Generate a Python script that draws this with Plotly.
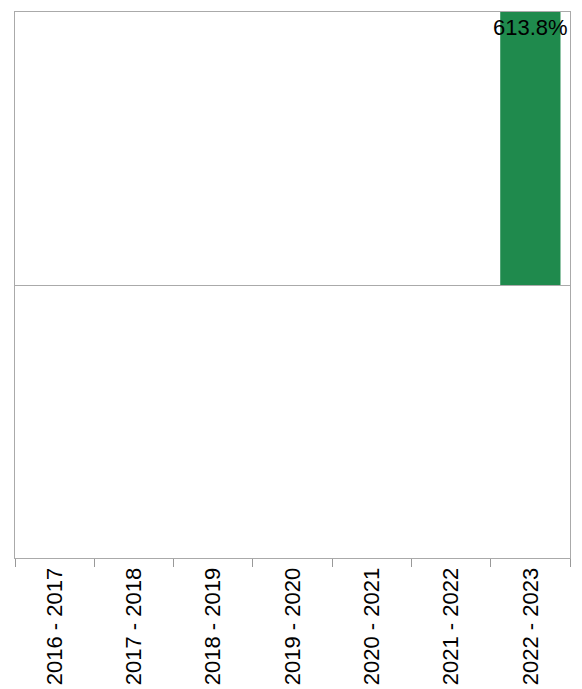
import plotly.graph_objects as go

categories = ["2016 - 2017", "2017 - 2018", "2018 - 2019", "2019 - 2020",
              "2020 - 2021", "2021 - 2022", "2022 - 2023"]
values = [0, 0, 0, 0, 0, 0, 613.8]
labels = ["" if v == 0 else f"{v:.1f}%" for v in values]

fig = go.Figure(go.Bar(
    x=categories, y=values, text=labels,
    textposition="inside", insidetextanchor="end", constraintext="none",
    textangle=0,
    textfont=dict(family="Liberation Sans, Arial", size=22, color="black"),
    marker=dict(color="#1f8a4d", line=dict(width=0)),
    width=0.76, cliponaxis=False,
))
ymax = max(values)
fig.update_layout(
    width=582, height=689,
    margin=dict(l=15, r=12, t=12, b=131),
    plot_bgcolor="white", paper_bgcolor="white",
    showlegend=False,
    font=dict(family="Liberation Sans, Arial", color="black"),
)
fig.update_xaxes(
    tickangle=-90, tickfont=dict(size=22, color="black"), automargin=False,
    tickson="boundaries", ticks="outside", ticklen=8, tickcolor="#999999",
    showline=True, linecolor="#aaaaaa", mirror=True, showgrid=False,
)
fig.update_yaxes(
    range=[-ymax, ymax], showticklabels=False, showgrid=False,
    zeroline=True, zerolinecolor="#aaaaaa", zerolinewidth=1,
    showline=True, linecolor="#aaaaaa", mirror=True, ticks="",
)
fig.write_html("out.html")
